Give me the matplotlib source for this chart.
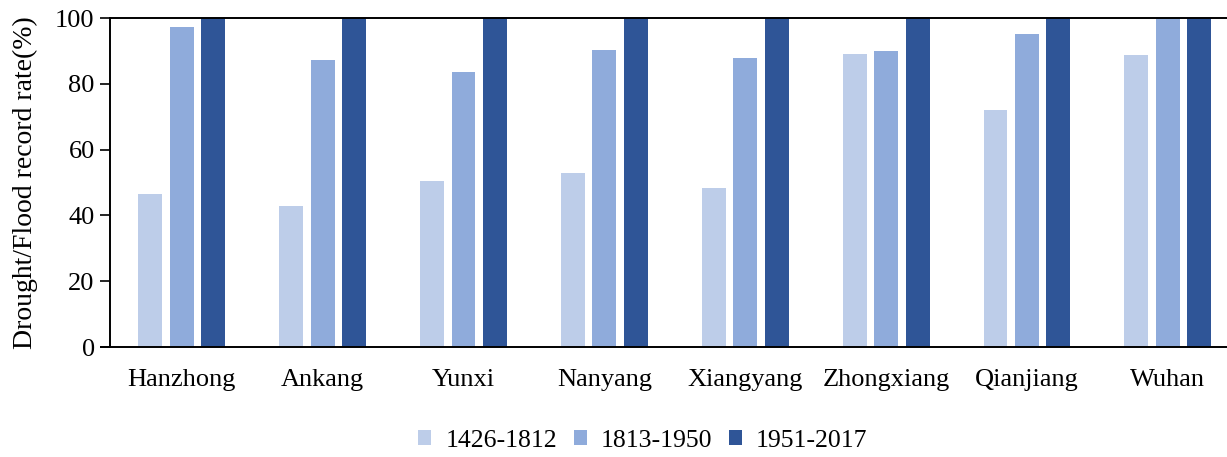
import matplotlib
matplotlib.use("Agg")
import matplotlib.pyplot as plt
import numpy as np

stations = ["Hanzhong", "Ankang", "Yunxi", "Nanyang", "Xiangyang",
            "Zhongxiang", "Qianjiang", "Wuhan"]
periods = ["1426-1812", "1813-1950", "1951-2017"]
rate_1426_1812 = [46.5, 43, 50.5, 53, 48.3, 89, 72, 88.7]
rate_1813_1950 = [97.3, 87.2, 83.6, 90.2, 87.8, 90, 95, 100]
rate_1951_2017 = [100, 100, 100, 100, 100, 100, 100, 100]
yticks = [0, 20, 40, 60, 80, 100]

colors = ["#BDCDE9", "#8FABDB", "#2F5597"]

plt.rcParams['font.family'] = ['Liberation Serif', 'DejaVu Serif']
plt.rcParams['font.size'] = 19

fig = plt.figure(figsize=(12.27, 4.57), dpi=100)
ax = fig.add_axes([0.0896, 0.2407, 0.9104, 0.7199])

x = np.arange(len(stations))
pitch = 0.2236
width = 0.17
series = [rate_1426_1812, rate_1813_1950, rate_1951_2017]
for i, (vals, lab, col) in enumerate(zip(series, periods, colors)):
    ax.bar(x + (i - 1) * pitch, vals, width, color=col, label=lab)

ax.set_xlim(-0.51, 7.42)
ax.set_ylim(0, 100)
ax.set_yticks(yticks)
ax.set_xticks(x)
ax.set_xticklabels(stations)
ax.tick_params(axis='x', length=0, pad=16)
ax.tick_params(axis='y', length=7, width=1.2, pad=4, direction='out')
ax.spines['right'].set_visible(False)
for s in ['left', 'top', 'bottom']:
    ax.spines[s].set_linewidth(1.4)
ax.spines['bottom'].set_bounds(-0.57, 7.42)
ax.set_ylabel("Drought/Flood record rate(%)", fontsize=20, labelpad=12)

fig.legend(loc='center', bbox_to_anchor=(0.524, 0.036), ncol=3, frameon=False,
           fontsize=18.5, handlelength=0.5, handleheight=0.5, handletextpad=0.55,
           columnspacing=0.65, borderaxespad=0)

fig.savefig("out.png", dpi=100)
